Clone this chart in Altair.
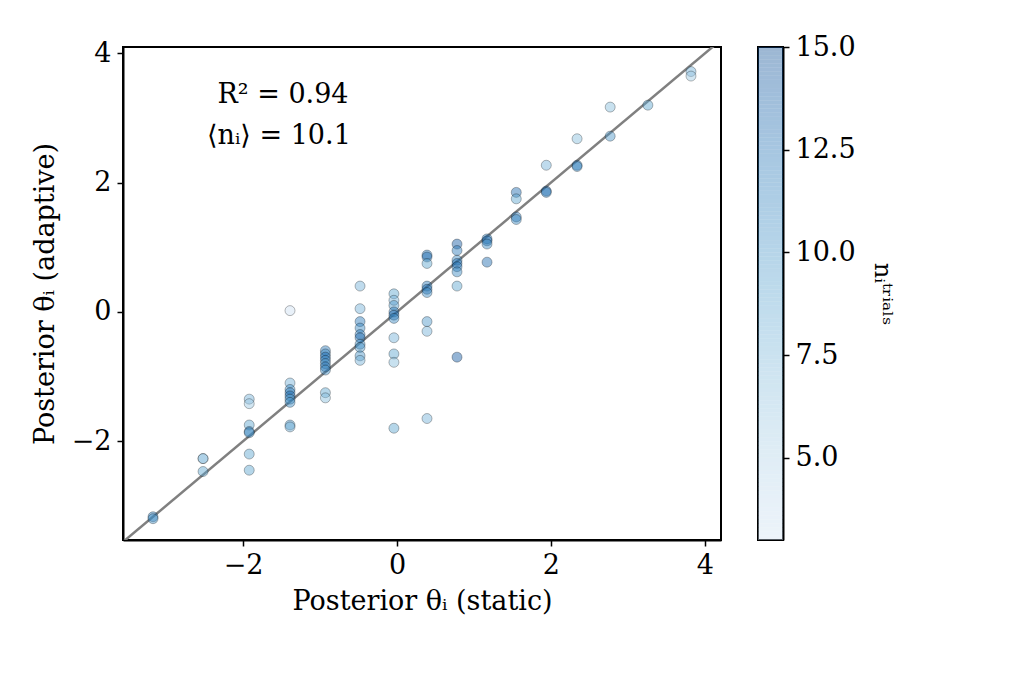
import altair as alt
import numpy as np
import pandas as pd

# columns of static posterior values with adaptive values and trial counts
x_static = [-3.17, -3.17,
            -2.52, -2.52, -2.52,
            -1.92, -1.92, -1.92, -1.92, -1.92, -1.92, -1.92,
            -1.39, -1.39, -1.39, -1.39, -1.39, -1.39, -1.39, -1.39, -1.39,
            -0.93, -0.93, -0.93, -0.93, -0.93, -0.93, -0.93, -0.93, -0.93,
            -0.48, -0.48, -0.48, -0.48, -0.48, -0.48, -0.48, -0.48, -0.48, -0.48,
            -0.04, -0.04, -0.04, -0.04, -0.04, -0.04, -0.04, -0.04, -0.04, -0.04,
            0.39, 0.39, 0.39, 0.39, 0.39, 0.39, 0.39, 0.39, 0.39,
            0.78, 0.78, 0.78, 0.78, 0.78, 0.78, 0.78, 0.78,
            1.17, 1.17, 1.17, 1.17,
            1.55, 1.55, 1.55, 1.55,
            1.94, 1.94, 1.94,
            2.34, 2.34, 2.34,
            2.77, 2.77,
            3.26,
            3.82, 3.82]
y_adaptive = [-3.17, -3.2,
              -2.27, -2.27, -2.47,
              -1.35, -1.42, -1.75, -1.85, -1.87, -2.2, -2.45,
              0.02, -1.1, -1.2, -1.25, -1.3, -1.35, -1.4, -1.75, -1.78,
              -0.6, -0.65, -0.7, -0.75, -0.8, -0.85, -0.9, -1.25, -1.33,
              0.4, 0.05, -0.15, -0.25, -0.35, -0.4, -0.5, -0.55, -0.68, -0.75,
              0.28, 0.18, 0.1, 0.0, -0.05, -0.1, -0.4, -0.65, -0.78, -1.8,
              0.88, 0.85, 0.75, 0.4, 0.35, 0.3, -0.15, -0.3, -1.65,
              1.05, 0.95, 0.8, 0.75, 0.7, 0.62, 0.4, -0.7,
              1.13, 1.1, 1.05, 0.77,
              1.85, 1.75, 1.47, 1.43,
              2.27, 1.87, 1.85,
              2.68, 2.27, 2.25,
              3.17, 2.72,
              3.2,
              3.72, 3.65]
n_trials = [12, 10,
            8, 6, 9,
            8, 6, 9, 12, 10, 9, 9,
            3, 8, 11, 12, 13, 10, 11, 10, 8,
            12, 11, 13, 12, 10, 13, 11, 9, 7,
            8, 8, 12, 11, 12, 13, 11, 10, 10, 8,
            9, 8, 10, 12, 13, 11, 8, 9, 7, 9,
            12, 13, 9, 12, 13, 11, 10, 8, 8,
            14, 12, 11, 13, 12, 11, 9, 14,
            12, 13, 11, 13,
            13, 9, 12, 11,
            8, 13, 12,
            7, 12, 11,
            7, 10,
            9,
            8, 6]

lo, hi = -3.56, 4.21
ylo, yhi = -3.53, 4.1
font = "DejaVu Serif"
cmap = alt.Scale(scheme="blues", domain=[3, 15])

df = pd.DataFrame({"x": x_static, "y": y_adaptive, "n": n_trials})
xs = alt.Scale(domain=[lo, hi], nice=False, zero=False)
ys = alt.Scale(domain=[ylo, yhi], nice=False, zero=False)

pts = alt.Chart(df).mark_point(filled=True, size=100, fillOpacity=0.45, stroke="black",
                               strokeWidth=0.4, strokeOpacity=0.7).encode(
    x=alt.X("x:Q", scale=xs, title="Posterior θᵢ (static)",
            axis=alt.Axis(values=[-2, 0, 2, 4], format="d", grid=False, tickSize=6, labelPadding=6,
                          titlePadding=10)),
    y=alt.Y("y:Q", scale=ys, title="Posterior θᵢ (adaptive)",
            axis=alt.Axis(values=[-2, 0, 2, 4], format="d", grid=False, tickSize=6, labelPadding=6,
                          titlePadding=12)),
    fill=alt.Fill("n:Q", scale=cmap, legend=None),
)

line = alt.Chart(pd.DataFrame({"x": [lo, hi], "y": [lo, hi]})).mark_line(
    color="gray", strokeWidth=2.5, clip=True).encode(x=alt.X("x:Q", scale=xs), y=alt.Y("y:Q", scale=ys))

ann = alt.Chart(pd.DataFrame({"x": [-0.63, -0.6], "y": [3.35, 2.72], "t": ["R² = 0.94", "⟨nᵢ⟩ = 10.1"]})).mark_text(
    font=font, fontSize=27, align="right", baseline="middle").encode(
    x=alt.X("x:Q", scale=xs), y=alt.Y("y:Q", scale=ys), text="t:N")

main = (line + pts + ann).properties(width=598, height=493)

# colorbar
levels = np.linspace(3, 15, 121)
cb_df = pd.DataFrame({"v": levels[:-1], "v2": levels[1:]})
cbar = alt.Chart(cb_df).mark_rect(opacity=0.4).encode(
    x=alt.value(0), x2=alt.value(25),
    y=alt.Y("v:Q", scale=alt.Scale(domain=[3, 15], nice=False, zero=False),
            axis=alt.Axis(orient="right", values=[5, 7.5, 10, 12.5, 15], format=".1f",
                          grid=False, tickSize=6, labelPadding=6,
                          title="nᵢᵗʳⁱᵃˡˢ", titleAngle=90, titlePadding=14, titleFontSize=24)),
    y2="v2:Q",
    fill=alt.Fill("v:Q", scale=cmap, legend=None),
).properties(width=25, height=493)

chart = alt.hconcat(main, cbar, spacing=35).configure_view(stroke="black", strokeWidth=2).configure_axis(
    labelFont=font, titleFont=font, labelFontSize=27, titleFontSize=27, labelColor="black",
    titleColor="black", titleFontWeight="normal", domainColor="black", tickColor="black",
    domainWidth=2, tickWidth=1.5
).properties(background="white", padding={"left": 22, "top": 24, "right": 10, "bottom": 10})

chart.save("out.html", embed_options={"renderer": "svg", "actions": False})
